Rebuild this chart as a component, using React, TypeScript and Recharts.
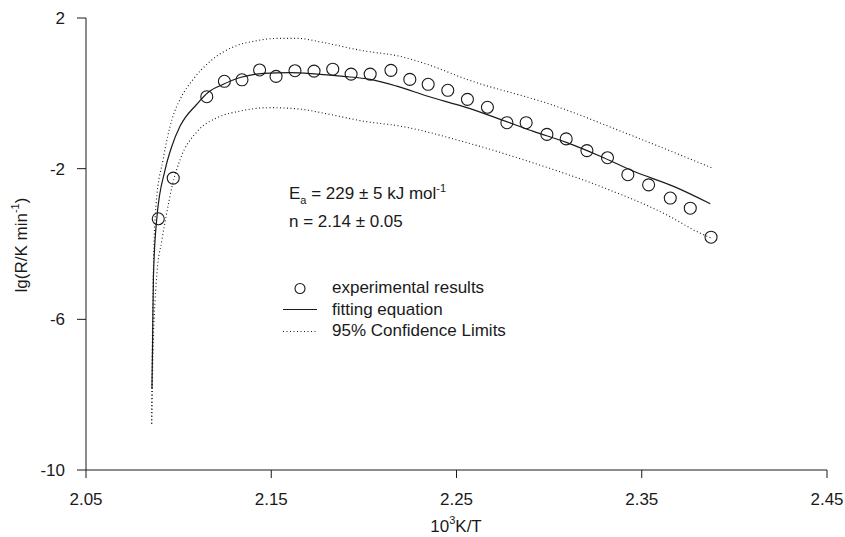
import { ComposedChart, Line, Scatter, XAxis, YAxis, Legend } from "recharts"

const FONT = "'Liberation Sans', Arial, sans-serif"
const INK = "#1a1a1a"

// experimental results (circles)
const expX = [
    2.089, 2.0971, 2.1152, 2.1247, 2.1342, 2.1437, 2.1526, 2.1628, 2.1731, 2.1832,
    2.1931, 2.2034, 2.2146, 2.2248, 2.2347, 2.2453, 2.2559, 2.2667, 2.2772, 2.2876,
    2.2988, 2.3092, 2.3204, 2.3315, 2.3425, 2.3537, 2.3654, 2.3762, 2.3874,
]
const expY = [
    -3.33, -2.25, -0.09, 0.32, 0.36, 0.62, 0.45, 0.6, 0.59, 0.64,
    0.51, 0.51, 0.61, 0.37, 0.24, 0.08, -0.16, -0.37, -0.78, -0.78,
    -1.09, -1.21, -1.52, -1.71, -2.16, -2.43, -2.78, -3.05, -3.82,
]

// fitting equation
const fitX = [
    2.0856, 2.0859, 2.0864, 2.0882, 2.0927, 2.0963, 2.1008, 2.1098, 2.116, 2.1241,
    2.1332, 2.1458, 2.1602, 2.1746, 2.189, 2.2034, 2.2178, 2.234, 2.2556, 2.2736,
    2.2916, 2.3096, 2.3276, 2.3456, 2.3672, 2.387,
]
const fitY = [
    -7.84, -6.8, -4.87, -3.33, -2.03, -1.41, -0.87, -0.29, 0.03, 0.24,
    0.42, 0.53, 0.55, 0.51, 0.45, 0.37, 0.19, -0.07, -0.38, -0.69,
    -1.01, -1.31, -1.67, -2.07, -2.47, -2.93,
]

// 95% confidence limits
const upperX = [
    2.0854, 2.0859, 2.0865, 2.0878, 2.0916, 2.0964, 2.1008, 2.1078, 2.117, 2.1299,
    2.1413, 2.1537, 2.164, 2.178, 2.1996, 2.2196, 2.2342, 2.2556, 2.3006, 2.3456, 2.3879,
]
const upperY = [
    -8.77, -6.29, -4.43, -2.96, -1.76, -0.69, -0.16, 0.37, 0.85, 1.24,
    1.39, 1.46, 1.46, 1.35, 1.13, 0.98, 0.77, 0.37, -0.29, -1.14, -1.98,
]
const lowerX = [
    2.0855, 2.0862, 2.0873, 2.0883, 2.091, 2.0936, 2.0964, 2.1008, 2.1105, 2.1206,
    2.1332, 2.1494, 2.1638, 2.1818, 2.1998, 2.2196, 2.2556, 2.2916, 2.3276, 2.3636,
    2.3798, 2.3874,
]
const lowerY = [
    -8.77, -6.83, -5.49, -4.77, -3.89, -3.17, -2.48, -1.76, -0.99, -0.65,
    -0.47, -0.38, -0.41, -0.56, -0.74, -0.87, -1.31, -1.85, -2.47, -3.23,
    -3.67, -3.84,
]

const xTicks = [2.05, 2.15, 2.25, 2.35, 2.45]
const yTicks = [2, -2, -6, -10]

const zip = (xs: number[], ys: number[]) => xs.map((x, i) => ({ x, y: ys[i] }))

const expData = zip(expX, expY)
const fitData = zip(fitX, fitY)
const upperData = zip(upperX, upperY)
const lowerData = zip(lowerX, lowerY)

const tickStyle = { fill: INK, fontSize: 17, fontFamily: FONT }

function OpenCircle(props: any) {
    const { cx, cy } = props
    if (cx == null || cy == null) return null
    return <circle cx={cx} cy={cy} r={6} fill="none" stroke={INK} strokeWidth={1.1} />
}

function LegendBox() {
    const rows = [
        { label: "experimental results", kind: "circle" },
        { label: "fitting equation", kind: "solid" },
        { label: "95% Confidence Limits", kind: "dotted" },
    ]
    return (
        <div style={{ fontFamily: FONT, fontSize: 17, color: INK }}>
            {rows.map((r) => (
                <div key={r.label} style={{ display: "flex", alignItems: "center", height: 21.5 }}>
                    <svg width={40} height={21} style={{ flex: "none" }}>
                        {r.kind === "circle" && (
                            <circle cx={20} cy={10.5} r={5} fill="none" stroke={INK} strokeWidth={1.1} />
                        )}
                        {r.kind === "solid" && (
                            <line x1={3} x2={37} y1={10.5} y2={10.5} stroke={INK} strokeWidth={1.1} />
                        )}
                        {r.kind === "dotted" && (
                            <line x1={3} x2={37} y1={10.5} y2={10.5} stroke={INK} strokeWidth={1.1} strokeDasharray="1 2.5" />
                        )}
                    </svg>
                    <span style={{ marginLeft: 12, whiteSpace: "nowrap" }}>{r.label}</span>
                </div>
            ))}
        </div>
    )
}

export default function App() {
    return (
        <div style={{ position: "relative", width: 845, height: 537, background: "#fff", fontFamily: FONT }}>
            <style>{"body{margin:0}"}</style>
            <ComposedChart width={845} height={537} margin={{ top: 18, right: 18, bottom: 22, left: 26 }}>
                <XAxis
                    dataKey="x"
                    type="number"
                    domain={[2.05, 2.45]}
                    ticks={xTicks}
                    allowDataOverflow
                    tickFormatter={(v: number) => v.toFixed(2)}
                    tick={tickStyle}
                    tickSize={8}
                    tickMargin={15}
                    height={45}
                    axisLine={{ stroke: INK }}
                    tickLine={{ stroke: INK }}
                    label={{
                        content: () => (
                            <text x={456} y={526} textAnchor="middle" dominantBaseline="central" fill={INK} fontSize={17} fontFamily={FONT}>
                                <tspan>10</tspan>
                                <tspan dy={-6} fontSize={11}>3</tspan>
                                <tspan dy={6}>K/T</tspan>
                            </text>
                        ),
                    }}
                />
                <YAxis
                    dataKey="y"
                    type="number"
                    domain={[-10, 2]}
                    ticks={yTicks}
                    allowDataOverflow
                    tick={tickStyle}
                    tickSize={9}
                    tickMargin={12}
                    width={60}
                    axisLine={{ stroke: INK }}
                    tickLine={{ stroke: INK }}
                    label={{
                        content: () => (
                            <text
                                x={21}
                                y={245}
                                transform="rotate(-90 21 245)"
                                textAnchor="middle"
                                dominantBaseline="central"
                                fill={INK}
                                fontSize={17}
                                fontFamily={FONT}
                            >
                                <tspan>lg(R/K min</tspan>
                                <tspan dy={-6} fontSize={11}>-1</tspan>
                                <tspan dy={6}>)</tspan>
                            </text>
                        ),
                    }}
                />
                <Line
                    data={upperData}
                    dataKey="y"
                    type="monotone"
                    stroke={INK}
                    strokeWidth={1.1}
                    strokeDasharray="1 2.5"
                    dot={false}
                    isAnimationActive={false}
                />
                <Line
                    data={lowerData}
                    dataKey="y"
                    type="monotone"
                    stroke={INK}
                    strokeWidth={1.1}
                    strokeDasharray="1 2.5"
                    dot={false}
                    isAnimationActive={false}
                />
                <Line
                    data={fitData}
                    dataKey="y"
                    type="monotone"
                    stroke={INK}
                    strokeWidth={1.2}
                    dot={false}
                    isAnimationActive={false}
                />
                <Scatter data={expData} dataKey="y" shape={OpenCircle} isAnimationActive={false} />
                <Legend
                    layout="vertical"
                    align="center"
                    verticalAlign="middle"
                    content={() => <LegendBox />}
                    wrapperStyle={{ position: "absolute", left: 280, top: 277.5, width: 260, bottom: "auto", right: "auto" }}
                />
            </ComposedChart>
            <div style={{ position: "absolute", left: 289, top: 184, fontSize: 17, lineHeight: "20px", color: INK, whiteSpace: "nowrap" }}>
                E<span style={{ fontSize: 11, position: "relative", top: 5 }}>a</span> = 229 ± 5 kJ mol
                <span style={{ fontSize: 11, position: "relative", top: -7 }}>-1</span>
            </div>
            <div style={{ position: "absolute", left: 289, top: 212, fontSize: 17, lineHeight: "20px", color: INK, whiteSpace: "nowrap" }}>
                n = 2.14 ± 0.05
            </div>
        </div>
    )
}
